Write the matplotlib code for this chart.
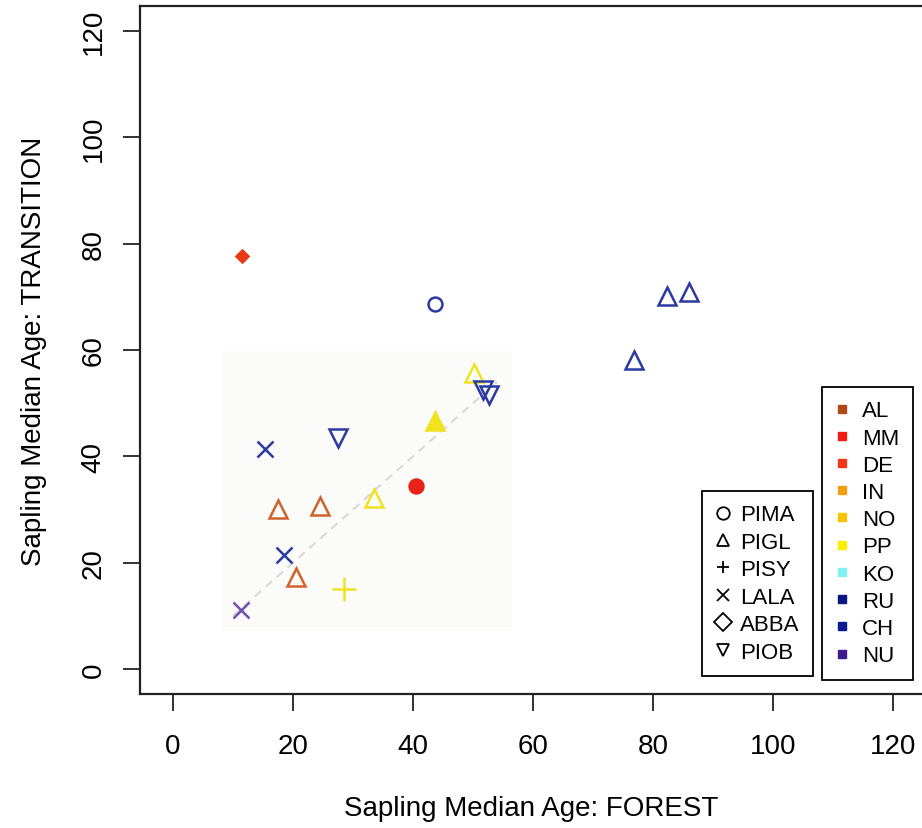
import matplotlib
matplotlib.use("Agg")
import matplotlib.pyplot as plt
from matplotlib.lines import Line2D

plt.rcParams['font.family'] = ['Liberation Sans', 'DejaVu Sans']

# data
forest = [11.5, 43.7, 82.3, 86.0, 76.8, 50.2, 51.7, 52.7, 43.7, 27.5, 15.3, 40.5, 33.5, 17.5, 24.5, 18.5, 20.5, 28.5, 11.3]
transition = [77.6, 68.7, 70.1, 71.0, 58.2, 55.7, 52.4, 51.6, 46.7, 43.5, 41.3, 34.5, 32.2, 30.1, 30.6, 21.5, 17.3, 15.1, 11.1]
species = ['ABBA', 'PIMA', 'PIGL', 'PIGL', 'PIGL', 'PIGL', 'PIOB', 'PIOB', 'PIGL', 'PIOB', 'LALA',
           'PIMA', 'PIGL', 'PIGL', 'PIGL', 'LALA', 'PIGL', 'PISY', 'LALA']
region = ['DE', 'CH', 'RU', 'RU', 'RU', 'PP', 'CH', 'CH', 'PP', 'CH', 'RU',
          'MM', 'PP', 'AL', 'AL', 'RU', 'AL', 'PP', 'NU']
filled = [True, False, False, False, False, False, False, False, True, False, False,
          True, False, False, False, False, False, False, False]

species_names = ['PIMA', 'PIGL', 'PISY', 'LALA', 'ABBA', 'PIOB']
species_markers = ['o', '^', '+', 'x', 'D', 'v']
region_names = ['AL', 'MM', 'DE', 'IN', 'NO', 'PP', 'KO', 'RU', 'CH', 'NU']
region_colors = ['#b04818', '#f01c14', '#f03818', '#f0a010', '#f8c400', '#f8f000', '#80f0f0',
                 '#081880', '#0a1a90', '#401890']
# scanned point colours are a bit lighter than the legend squares
point_colors = {'AL': '#d0622c', 'MM': '#e82214', 'DE': '#e83a14', 'PP': '#f0e21c',
                'RU': '#2a3aa0', 'CH': '#2a3aa0', 'NU': '#7050b0'}
marker_size = {'o': 10, '^': 13, '+': 17, 'x': 11, 'D': 6, 'v': 13}

one_to_one = [10, 54]

fig = plt.figure(figsize=(9.22, 8.29), dpi=100)
ax = fig.add_axes([140 / 922, 134 / 829, 783 / 922, 688 / 829])
ax.set_xlim(-5.5, 125)
ax.set_ylim(-4.7, 124.7)

# faint pasted patch in the scan
ax.add_patch(plt.Rectangle((8.2, 7.2), 48.3, 52.7, facecolor='#fbfbfa', edgecolor='none', zorder=0))
ax.plot(one_to_one, one_to_one, color='#d8d8d8', linestyle=(0, (4, 3)), linewidth=1.5, zorder=1)

for x, y, sp, rg, fl in zip(forest, transition, species, region, filled):
    m = species_markers[species_names.index(sp)]
    c = point_colors[rg]
    ax.plot(x, y, marker=m, markersize=marker_size[m], linestyle='none',
            markeredgecolor=c, markerfacecolor=c if fl else 'none', markeredgewidth=1.8, zorder=3)

ax.set_xticks(range(0, 121, 20))
ax.set_yticks(range(0, 121, 20))
ax.tick_params(direction='out', length=12, width=1.3, labelsize=20, pad=16, color='#222222')
ax.tick_params(axis='y', labelrotation=90, pad=12)
for lab in ax.get_yticklabels():
    lab.set_verticalalignment('center')
ax.spines['right'].set_visible(False)
for s in ['left', 'top', 'bottom']:
    ax.spines[s].set_linewidth(1.6)
    ax.spines[s].set_color('#222222')

ax.set_xlabel('Sapling Median Age: FOREST', fontsize=20, labelpad=26)
ax.set_ylabel('Sapling Median Age: TRANSITION', fontsize=20, labelpad=24)

sp_handles = [Line2D([], [], marker=m, linestyle='none', color='black', markerfacecolor='none',
                     markersize=9, markeredgewidth=1.3) for m in species_markers]
leg1 = ax.legend(sp_handles, species_names, loc='upper left', bbox_to_anchor=(702 / 922, 1 - 492 / 829),
                 bbox_transform=fig.transFigure, fontsize=16, frameon=True, fancybox=False,
                 edgecolor='black', framealpha=1, handlelength=0.7, handletextpad=0.4,
                 labelspacing=0.29, borderpad=0.6, borderaxespad=0)
leg1.get_frame().set_linewidth(1.3)
ax.add_artist(leg1)

rg_handles = [Line2D([], [], marker='s', linestyle='none', color=c, markersize=6) for c in region_colors]
leg2 = ax.legend(rg_handles, region_names, loc='upper left', bbox_to_anchor=(822 / 922, 1 - 388 / 829),
                 bbox_transform=fig.transFigure, fontsize=16, frameon=True, fancybox=False,
                 edgecolor='black', framealpha=1, handlelength=0.6, handletextpad=0.6,
                 labelspacing=0.28, borderpad=0.6, borderaxespad=0)
leg2.get_frame().set_linewidth(1.3)

fig.savefig('out.png', dpi=100)
